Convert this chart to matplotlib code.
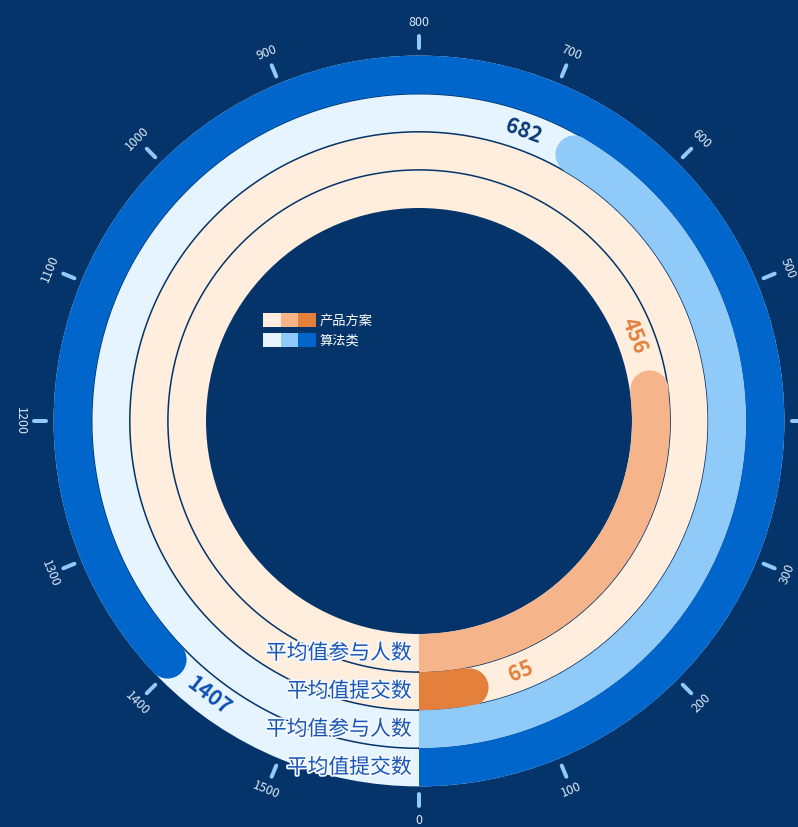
import numpy as np
import matplotlib
matplotlib.use("Agg")
import matplotlib.pyplot as plt
from matplotlib.patches import Patch
from matplotlib.legend_handler import HandlerTuple
from matplotlib.transforms import offset_copy
import matplotlib.patheffects as pe

plt.rcParams["font.family"] = ["Noto Sans CJK SC", "DejaVu Sans"]

# data
series_names = ["产品方案", "算法类"]
ring_labels = ["平均值参与人数", "平均值提交数", "平均值参与人数", "平均值提交数"]
product_values = [456, 65]      # 参与人数, 提交数
algorithm_values = [682, 1407]  # 参与人数, 提交数
axis_max = 1600
tick_values = list(range(0, 1600, 100))

values = product_values + algorithm_values

# styling
BG = "#04346a"
ring_bg = ["#ffeedd", "#ffeedd", "#e6f4ff", "#e6f4ff"]
bar_colors = ["#f6b48b", "#e2803c", "#90caf9", "#0066cc"]
value_colors = ["#e2803c", "#e2803c", "#0b3a73", "#0d50b2"]
legend_colors = [["#ffeedd", "#f6b48b", "#e2803c"], ["#e6f4ff", "#90caf9", "#0066cc"]]

W, H, DPI = 798, 827, 100
cx, cy = 419, 421          # centre in pixels (from top)
R_AX = 410                 # axes radius in pixels, 1 data unit of r == 1 px
r_inner = 213
ring_w = 38.1


def theta_of(v):
    return np.deg2rad(v / axis_max * 360.0)


def upright(deg):
    return ((deg + 90) % 180) - 90


fig = plt.figure(figsize=(W / DPI, H / DPI), dpi=DPI, facecolor=BG)
ax = fig.add_axes([(cx - R_AX) / W, (H - cy - R_AX) / H, 2 * R_AX / W, 2 * R_AX / H],
                  projection="polar")
ax.set_theta_zero_location("S")
ax.set_theta_direction(1)
ax.set_rlim(0, R_AX)
ax.axis("off")

full = np.linspace(0, 2 * np.pi, 721)

for i, v in enumerate(values):
    r0 = r_inner + i * ring_w
    rm = r0 + ring_w / 2
    # background track
    ax.bar(0, ring_w, width=2 * np.pi, bottom=r0, align="edge",
           color=ring_bg[i], linewidth=0, zorder=1)
    # bar with a rounded end that stops at the value
    cap = (ring_w / 2) / rm
    t_end = theta_of(v)
    ax.bar(0, ring_w, width=t_end - cap, bottom=r0, align="edge",
           color=bar_colors[i], linewidth=0, zorder=3)
    ax.plot([t_end - cap], [rm], "o", ms=ring_w * 72 / DPI, color=bar_colors[i],
            mec="none", zorder=3)
    # value label just past the end of the bar
    t_lab = t_end + 36 / rm
    ax.text(t_lab, rm, str(v), rotation=upright(np.rad2deg(t_lab)),
            rotation_mode="anchor", ha="center", va="center",
            fontsize=15, fontweight="bold", color=value_colors[i], zorder=5)

# thin separators between tracks
for i in range(1, 4):
    ax.plot(full, np.full_like(full, r_inner + i * ring_w), color=BG, lw=1.1, zorder=2)

# ring names, right aligned just left of the zero line
trans = offset_copy(ax.transData, fig=fig, x=-7, y=0, units="dots")
for i, name in enumerate(ring_labels):
    rm = r_inner + i * ring_w + ring_w / 2
    ax.text(0, rm, name, transform=trans, ha="right", va="center",
            fontsize=15, color="#1a55b5", zorder=6,
            path_effects=[pe.withStroke(linewidth=2.5, foreground="#f4f9ff")])

# angle axis ticks and labels
tick_th = theta_of(np.array(tick_values))
ax.vlines(tick_th, 373, 385, colors="#90caf9", linewidth=4 * 72 / DPI,
          capstyle="round", zorder=4)
for tv, th in zip(tick_values, tick_th):
    ax.text(th, 399, str(tv), rotation=upright(np.rad2deg(th)),
            rotation_mode="anchor", ha="center", va="center",
            fontsize=9, color="#dce8f5", zorder=4)

# legend with three-step colour swatches
handles = [tuple(Patch(facecolor=c, linewidth=0) for c in cols) for cols in legend_colors]
fig.legend(handles, series_names, handler_map={tuple: HandlerTuple(ndivide=None, pad=0)},
           loc="upper left", bbox_to_anchor=(263 / W, 1 - 313 / H),
           frameon=False, borderpad=0, borderaxespad=0, fontsize=9.5,
           handlelength=4.0, handleheight=1.3, labelspacing=0.38,
           handletextpad=0.3, labelcolor="white")

fig.savefig("out.png", dpi=DPI, facecolor=BG)
